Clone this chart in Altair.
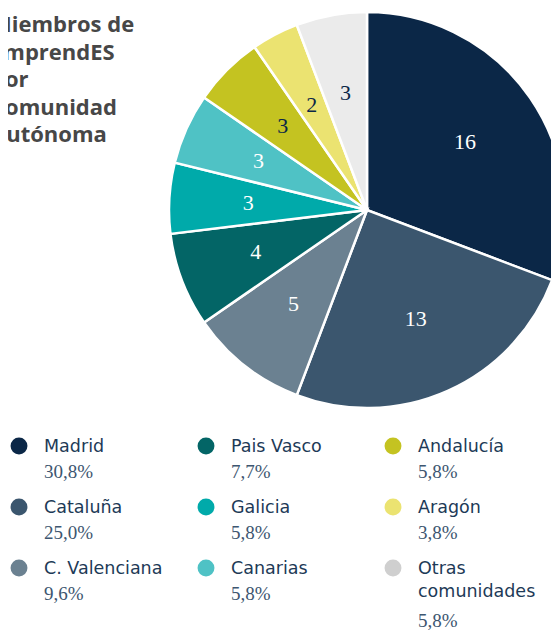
import altair as alt
import pandas as pd

# ---- data ----
names = ["Madrid", "Cataluña", "C. Valenciana", "País Vasco", "Galicia",
         "Canarias", "Andalucía", "Aragón", "Otras comunidades"]
values = [16, 13, 5, 4, 3, 3, 3, 2, 3]
legend_labels = ["Madrid", "Cataluña", "C. Valenciana", "Pais Vasco", "Galicia",
                 "Canarias", "Andalucía", "Aragón", "Otras\ncomunidades"]
pct_labels = ["30,8%", "25,0%", "9,6%", "7,7%", "5,8%", "5,8%", "5,8%", "3,8%", "5,8%"]
title_text = "Miembros de\nEmprendES\npor\nComunidad\nAutónoma"

# ---- styles ----
pie_colors = ["#0b2747", "#3b566e", "#6b8191", "#036566", "#00aaaa",
              "#4fc2c5", "#c4c321", "#ebe371", "#ebebeb"]
dot_colors = ["#0b2747", "#3b566e", "#6b8191", "#036566", "#00aaaa",
              "#4fc2c5", "#c4c321", "#ebe371", "#cfcfcf"]
label_colors = ["#ffffff", "#ffffff", "#ffffff", "#ffffff", "#ffffff",
                "#ffffff", "#0b2747", "#0b2747", "#0b2747"]

df = pd.DataFrame({
    "idx": list(range(len(names))),
    "name": names,
    "value": values,
    "legend": legend_labels,
    "pct": pct_labels,
})

base = alt.Chart(df)
CX, CY = 359, 202

theta = alt.Theta("value:Q", stack=True)
order = alt.Order("idx:Q")

arc = base.mark_arc(radius=198, stroke="white", strokeWidth=2.5).encode(
    theta=theta, order=order,
    color=alt.Color("name:N", scale=alt.Scale(domain=names, range=pie_colors), legend=None),
    x=alt.value(CX), y=alt.value(CY),
)

slice_labels = base.mark_text(radius=119, font="Liberation Serif", fontSize=22).encode(
    theta=theta, order=order,
    text="value:Q",
    color=alt.Color("name:N", scale=alt.Scale(domain=names, range=label_colors), legend=None),
    x=alt.value(CX), y=alt.value(CY),
)

leg = base.transform_calculate(
    col="floor(datum.idx / 3)",
    row="datum.idx % 3",
    prow="datum.idx % 3 + (indexof(datum.legend, '\\n') >= 0 ? 0.44 : 0)",
)
xs = alt.Scale(domain=[0, 2], range=[11, 385], nice=False, zero=False)
ys = alt.Scale(domain=[0, 2.5], range=[438, 590.5], nice=False, zero=False)

dots = leg.mark_circle(size=285, opacity=1).encode(
    x=alt.X("col:Q", scale=xs, axis=None),
    y=alt.Y("row:Q", scale=ys, axis=None),
    color=alt.Color("name:N", scale=alt.Scale(domain=names, range=dot_colors), legend=None),
)

leg_names = leg.mark_text(align="left", baseline="top", dx=25, dy=-8,
                          font="DejaVu Sans", fontSize=17.5, color="#1d3a57",
                          lineBreak="\n", lineHeight=23).encode(
    x=alt.X("col:Q", scale=xs, axis=None),
    y=alt.Y("row:Q", scale=ys, axis=None),
    text="legend:N",
)

leg_pct = leg.mark_text(align="left", baseline="middle", dx=25, dy=26,
                        font="Liberation Serif", fontSize=19, color="#3d5670").encode(
    x=alt.X("col:Q", scale=xs, axis=None),
    y=alt.Y("prow:Q", scale=ys, axis=None),
    text="pct:N",
)

title = alt.Chart(pd.DataFrame({"t": [title_text]})).mark_text(
    align="left", baseline="alphabetic", font="Open Sans", fontWeight="bold",
    fontSize=22, lineHeight=27.5, lineBreak="\n", color="#474747",
).encode(x=alt.value(-17), y=alt.value(24), text="t:N")

chart = alt.layer(arc, slice_labels, dots, leg_names, leg_pct, title).resolve_scale(
    color="independent"
).properties(
    width=543, height=624,
    autosize=alt.AutoSizeParams(type="none"),
    padding=0,
).configure_view(stroke=None)

chart.save("out.html", embed_options={"renderer": "svg", "actions": False})
